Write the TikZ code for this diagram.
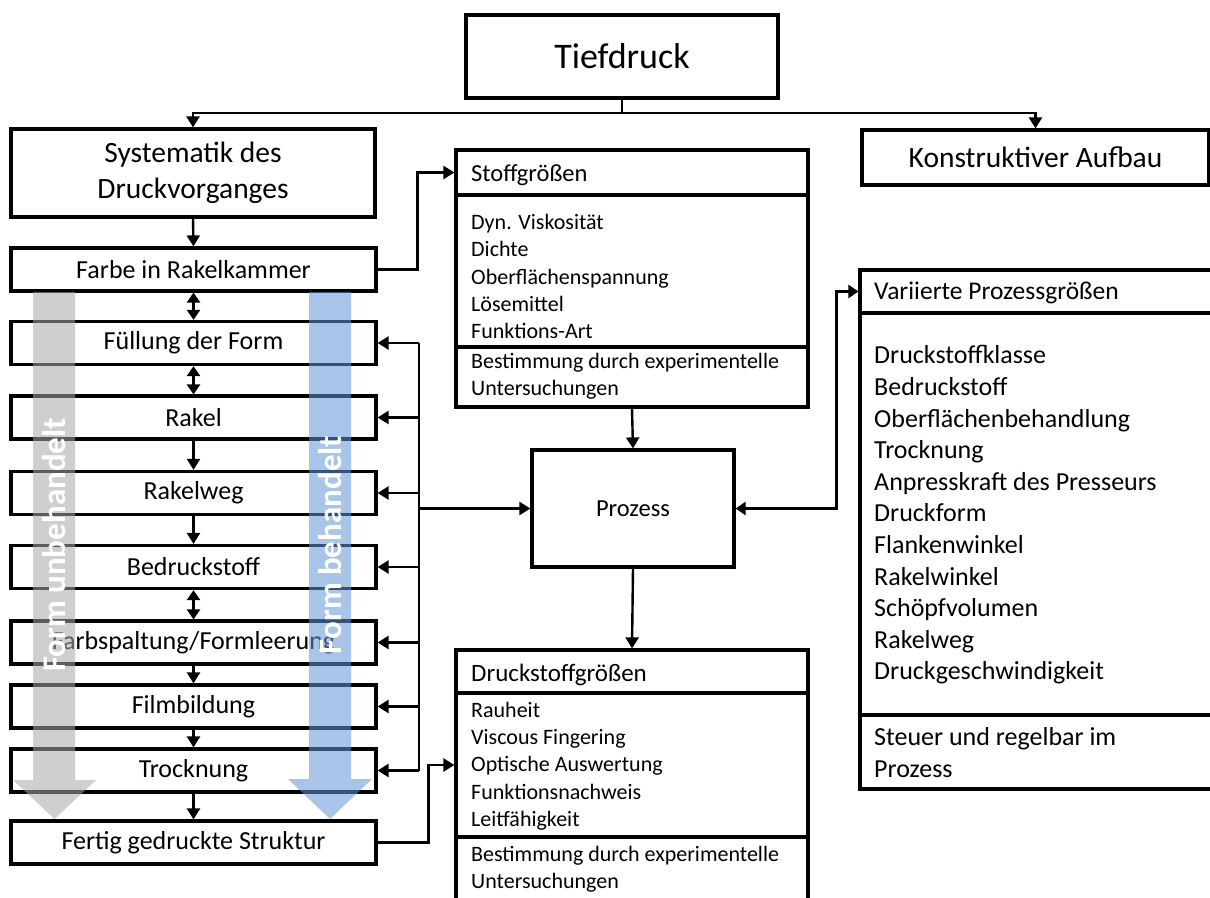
\documentclass[tikz,border=0pt]{standalone}
\usepackage{fontspec}
\setmainfont{Carlito}
\usetikzlibrary{arrows.meta}
\definecolor{grayarrow}{RGB}{168,168,168}
\definecolor{bluearrow}{RGB}{98,149,215}
\newcommand{\fsz}[2]{\fontsize{#1}{#2}\selectfont}
\begin{document}
\begin{tikzpicture}[x=1pt,y=-1pt,
  box/.style={draw, line width=3.2pt, fill=white, inner sep=0pt},
  conn/.style={line width=2.4pt},
  arr/.style={conn, -{Triangle[length=11pt,width=13pt]}},
  darr/.style={conn, {Triangle[length=10pt,width=13pt]}-{Triangle[length=10pt,width=13pt]}},
  lbox/.style={box, minimum width=365, minimum height=43, font=\fsz{26}{31}},
  cbox/.style={box, minimum width=352},
  vbox/.style={box, minimum width=370},
  txt/.style={anchor=west, inner sep=0pt, align=left},
  bodytxt/.style={txt, font=\fsz{22}{27.3}},
  arrowtxt/.style={rotate=90, text=white, inner sep=0pt, font=\bfseries\fsz{33}{40}}
]
\useasboundingbox (0,0) rectangle (1210,897);

% top level
\node[box, minimum width=312, minimum height=83, font=\fsz{36}{43}] (tief) at (622,56.5) {Tiefdruck};
\node[box, minimum width=364, minimum height=88, align=center, font=\fsz{29.5}{36}] (syst) at (193,173) {Systematik des\\Druckvorganges};
\node[box, minimum width=347, minimum height=55, font=\fsz{29.5}{36}] (konst) at (1035.5,157.5) {Konstruktiver Aufbau};

% left column
\node[lbox] (farbe)  at (193.5,269.5) {Farbe in Rakelkammer};
\node[lbox] (fuell)  at (193.5,343)   {Füllung der Form};
\node[lbox] (rakel)  at (193.5,417.5) {Rakel};
\node[lbox] (rweg)   at (193.5,493)   {Rakelweg};
\node[lbox] (bedr)   at (193.5,567)   {Bedruckstoff};
\node[lbox] (fspalt) at (193.5,642.5) {Farbspaltung/Formleerung};
\node[lbox] (film)   at (193.5,706.5) {Filmbildung};
\node[lbox] (trock)  at (193.5,770.5) {Trocknung};
\node[lbox] (fertig) at (193.5,842.5) {Fertig gedruckte Struktur};

% process
\node[box, minimum width=202, minimum height=117, font=\fsz{24.5}{30}] (proz) at (633,508.5) {Prozess};

% Stoffgroessen
\node[cbox, minimum height=45]  (stoffH) at (632,172.5) {};
\node[cbox, minimum height=152] (stoffB) at (632,271) {};
\node[cbox, minimum height=60]  (stoffF) at (632,377) {};
\node[txt, font=\fsz{24.5}{30}] (stoffHt) at (471,175) {Stoffgrößen};
\node[bodytxt] (stoffBt) at (471,276.5) {Dyn. Viskosität\\Dichte\\Oberflächenspannung\\Lösemittel\\Funktions-Art};
\node[bodytxt] (stoffFt) at (471,376) {Bestimmung durch experimentelle\\Untersuchungen};

% Druckstoffgroessen
\node[cbox, minimum height=43]  (druckH) at (632,671.5) {};
\node[cbox, minimum height=144] (druckB) at (632,765) {};
\node[cbox, minimum height=63]  (druckF) at (632,868.5) {};
\node[txt, font=\fsz{25}{30}] (druckHt) at (471,675) {Druckstoffgrößen};
\node[bodytxt] (druckBt) at (471,766) {Rauheit\\Viscous Fingering\\Optische Auswertung\\Funktionsnachweis\\Leitfähigkeit};
\node[bodytxt] (druckFt) at (471,869) {Bestimmung durch experimentelle\\Untersuchungen};

% Variierte Prozessgroessen
\node[vbox, minimum height=43]  (varH) at (1045,291.5) {};
\node[vbox, minimum height=402] (varB) at (1045,514) {};
\node[vbox, minimum height=74]  (varF) at (1045,752) {};
\node[txt, font=\fsz{25.5}{31}] (varHt) at (874,293) {Variierte Prozessgrößen};
\node[txt, font=\fsz{26}{31.6}] (varBt) at (874,515) {Druckstoffklasse\\Bedruckstoff\\Oberflächenbehandlung\\Trocknung\\Anpresskraft des Presseurs\\Druckform\\Flankenwinkel\\Rakelwinkel\\Schöpfvolumen\\Rakelweg\\Druckgeschwindigkeit};
\node[txt, font=\fsz{26}{31.6}] (varFt) at (874,752.5) {Steuer und regelbar im\\Prozess};

% connectors top
\coordinate (j) at (622,113);
\draw[conn] (tief.south) -- (j);
\draw[arr] (j) -| (syst.north);
\draw[arr] (j) -| (konst.north);

% left chain
\draw[arr]  (syst.south) -- (farbe.north);
\draw[darr] (farbe.south) -- (fuell.north);
\draw[darr] (fuell.south) -- (rakel.north);
\draw[arr]  (rakel.south) -- (rweg.north);
\draw[arr]  (rweg.south) -- (bedr.north);
\draw[darr] (bedr.south) -- (fspalt.north);
\draw[arr]  (fspalt.south) -- (film.north);
\draw[arr]  (film.south) -- (trock.north);
\draw[arr]  (trock.south) -- (fertig.north);

% bus
\coordinate (bus) at (419,0);
\draw[conn] (fuell.east -| bus) -- (trock.east -| bus);
\foreach \n in {fuell,rakel,rweg,bedr,fspalt,film,trock}
  \draw[arr] (\n.east -| bus) -- (\n.east);
\draw[arr] (proz.west -| bus) -- (proz.west);

% other connectors
\draw[arr] (farbe.east) -- ++(40,0) |- (stoffH.west);
\draw[arr] (fertig.east) -- ++(51,0) |- (druckB.west);
\draw[arr] (stoffF.south) -- (proz.north);
\draw[arr] (proz.south) -- (druckH.north);
\draw[darr] (proz.east) -- ++(101,0) |- (varH.west);

% big arrows
\fill[grayarrow, fill opacity=0.55] (33,292) -- (75,292) -- (75,780) -- (96,780) -- (54.5,819) -- (13,780) -- (33,780) -- cycle;
\fill[bluearrow, fill opacity=0.55] (309,292) -- (351,292) -- (351,779) -- (372,779) -- (330,819) -- (288,779) -- (309,779) -- cycle;
\node[arrowtxt] (grayt) at (54,545) {Form unbehandelt};
\node[arrowtxt] (bluet) at (330,545) {Form behandelt};
\end{tikzpicture}
\end{document}
